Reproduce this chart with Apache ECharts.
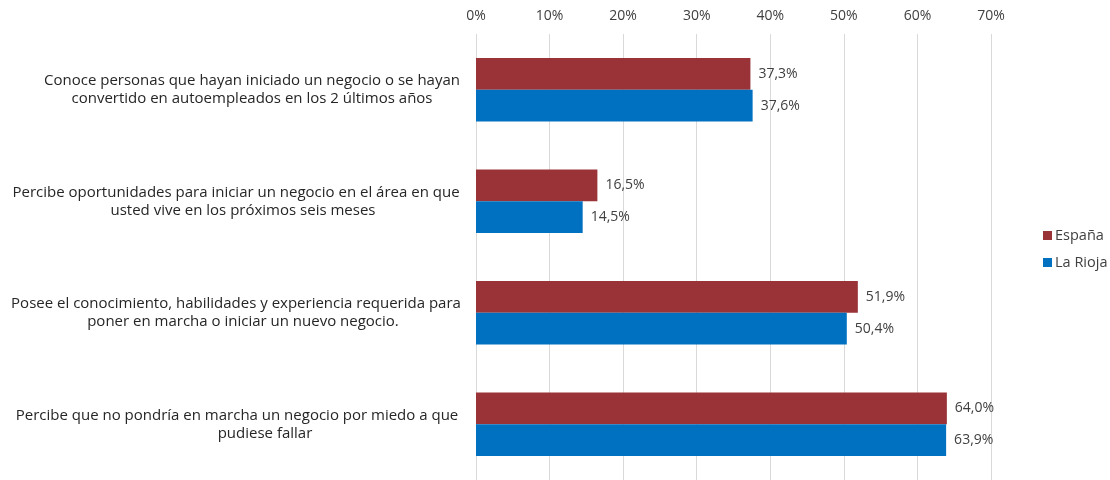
<!DOCTYPE html>
<html><head><meta charset="utf-8">
<script src="https://cdn.jsdelivr.net/npm/echarts@6/dist/echarts.min.js"></script>
<style>html,body{margin:0;padding:0;background:#fff}#c{width:1110px;height:480px}</style>
</head><body><div id="c"></div>
<script>
const categories = [
  "Conoce personas que hayan iniciado un negocio o se hayan\nconvertido en autoempleados en los 2 últimos años",
  "Percibe oportunidades para iniciar un negocio en el área en que\nusted vive en los próximos seis meses",
  "Posee el conocimiento, habilidades y experiencia requerida para\nponer en marcha o iniciar un nuevo negocio.",
  "Percibe que no pondría en marcha un negocio por miedo a que\npudiese fallar"
];
const espana = [37.3, 16.5, 51.9, 64.0];
const laRioja = [37.6, 14.5, 50.4, 63.9];
const seriesNames = ["España", "La Rioja"];

// layout: horizontal shift (px) of each wrapped label line, mimicking the original's centering
const lineShift = [[16, 16], [0, 7], [0, 7], [1, 29]];

const FONT = "Open Sans";
const fmt = v => v.toFixed(1).replace('.', ',') + '%';
const rich = {};
lineShift.forEach((arr, ci) => arr.forEach((s, li) => {
  rich['l' + ci + '_' + li] = { padding: [0, 0, 0, 2 * s], fontSize: 15, color: '#262626', fontFamily: FONT, lineHeight: 18 };
}));
const chart = echarts.init(document.getElementById('c'));
chart.setOption({
  animation: false,
  textStyle: { fontFamily: FONT },
  grid: { left: 476, right: 119, top: 34, bottom: -2, containLabel: false },
  legend: {
    data: seriesNames, orient: 'vertical', left: 1038, top: 223,
    itemWidth: 9, itemHeight: 9, itemGap: 12, icon: 'rect',
    textStyle: { fontFamily: FONT, fontSize: 14.5, color: '#404040', padding: [0, 0, 0, -2] }
  },
  xAxis: {
    type: 'value', position: 'top', min: 0, max: 70, interval: 10,
    axisLine: { show: false }, axisTick: { show: false },
    axisLabel: { formatter: v => v + '%', fontSize: 14, color: '#404040', margin: 11 },
    splitLine: { lineStyle: { color: '#d9d9d9' } }
  },
  yAxis: {
    type: 'category', data: categories, inverse: true,
    axisLine: { show: false }, axisTick: { show: false },
    axisLabel: {
      align: 'center', margin: 240, fontSize: 15, color: '#262626', lineHeight: 18,
      formatter: (v, i) => v.split('\n').map((l, li) => '{l' + i + '_' + li + '|' + l + '}').join('\n'),
      rich: rich
    }
  },
  series: [
    { name: seriesNames[0], type: 'bar', data: espana, barGap: '0%', barCategoryGap: '43%',
      itemStyle: { color: '#993337' },
      label: { show: true, position: 'right', distance: 8, formatter: p => fmt(p.value), fontSize: 14, color: '#404040' } },
    { name: seriesNames[1], type: 'bar', data: laRioja, barGap: '0%', barCategoryGap: '43%',
      itemStyle: { color: '#0070C0' },
      label: { show: true, position: 'right', distance: 8, formatter: p => fmt(p.value), fontSize: 14, color: '#404040' } }
  ]
});
</script></body></html>
